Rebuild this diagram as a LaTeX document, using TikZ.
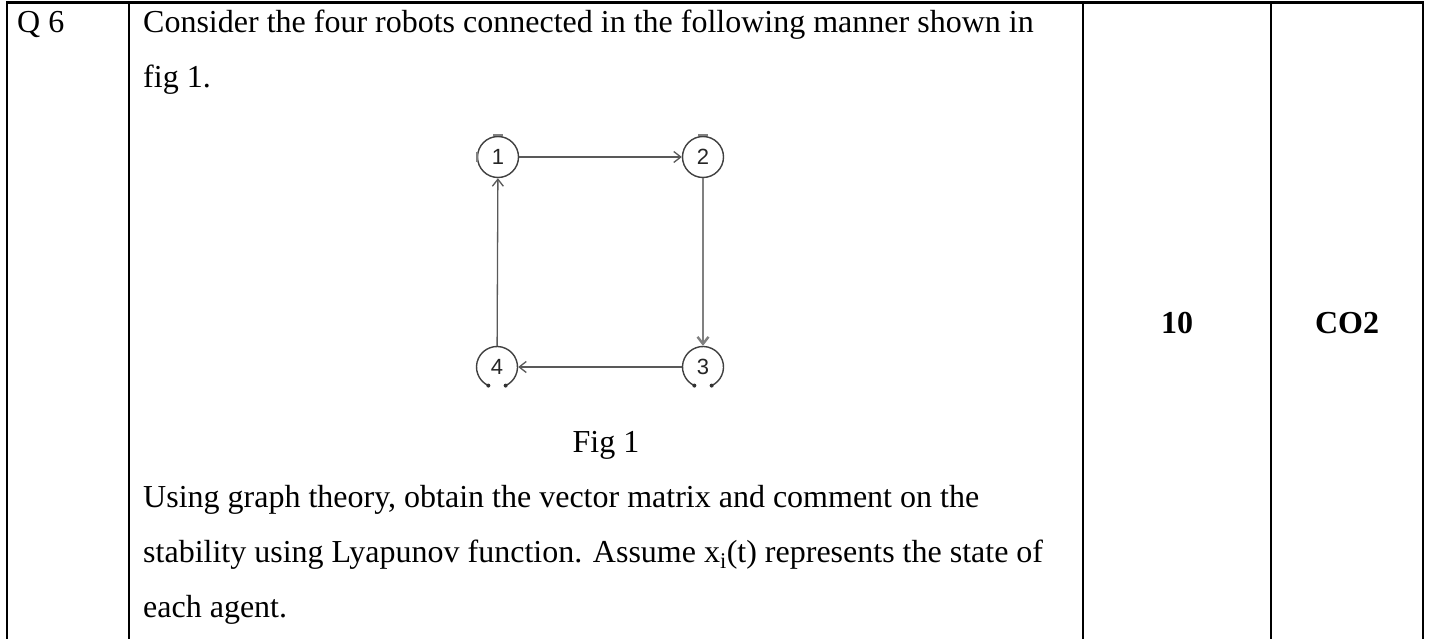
\documentclass[tikz,border=0pt]{standalone}
\usepackage{fontspec}
\setmainfont{Liberation Serif}
\newfontfamily\numfont{Liberation Sans}
\usetikzlibrary{arrows.meta}

\begin{document}
\begin{tikzpicture}[x=1pt,y=-1pt,
  rule/.style={line width=2pt, black},
  body/.style={anchor=base west, font=\fontsize{32}{38}\selectfont, inner sep=0pt},
  cell/.style={anchor=base, font=\fontsize{32}{38}\selectfont\bfseries, inner sep=0pt},
  robot/.style={circle, minimum size=42pt, inner sep=0pt, font=\numfont\fontsize{22}{22}\selectfont, text=black!85},
  ring/.style={draw=black!75, line width=1.4pt},
  link/.style={draw=black!65, line width=1.3pt, -{Straight Barb[length=7pt,width=11pt]}},
  tick/.style={draw=black!50, line width=2.5pt},
]
\useasboundingbox (0,0) rectangle (1429,639);
\fill[white] (0,0) rectangle (1429,639);

% table rules
\draw[line width=3pt] (6,3) -- (1424,3);
\foreach \x in {7,129,1083,1271,1423} \draw[rule] (\x,3) -- (\x,639);

% question text
\node[body] (qno) at (17,33) {Q 6};
\node[body] (l1) at (143,33) {Consider the four robots connected in the following manner shown in};
\node[body] (l2) at (143,88) {fig 1.};
\node[body, anchor=base] (cap) at (606,452) {Fig 1};
\node[body] (l3) at (143,507) {Using graph theory, obtain the vector matrix and comment on the};
\node[body] (l4) at (143,562) {stability using Lyapunov function. Assume x\textsubscript{i}(t) represents the state of};
\node[body] (l5) at (143,617) {each agent.};
\node[cell] (marks) at (1177,333) {10};
\node[cell] (co) at (1347,333) {CO2};

% the four robots
\node[robot] (r1) at (498,157) {1};
\node[robot] (r2) at (703,157) {2};
\node[robot] (r3) at (703,367) {3};
\node[robot] (r4) at (497,367) {4};

\draw[ring] (r1.center) circle[radius=20.5];
\draw[ring] (r2.center) circle[radius=20.5];
\foreach \r in {r3,r4}{
  \draw[ring] ([shift={(115:20.5)}]\r.center) arc[start angle=115, end angle=425, radius=20.5];
  \fill[black!80] ([shift={(115:20.5)}]\r.center) circle[radius=2];
  \fill[black!80] ([shift={(65:20.5)}]\r.center) circle[radius=2];
}
\draw[tick] ([xshift=-5pt,yshift=1pt]r1.north) -- ([xshift=5pt,yshift=1pt]r1.north);
\draw[tick] ([xshift=-5pt,yshift=1pt]r2.north) -- ([xshift=5pt,yshift=1pt]r2.north);
\draw[tick, line width=1.5pt] ([yshift=-5pt]r1.west) -- ([yshift=5pt]r1.west);

% directed links
\draw[link] (r1) -- (r2);
\draw[link, draw=black!50, line width=2.4pt] (r2) -- (r3);
\draw[link] (r3) -- (r4);
\draw[link] (r4) -- (r1);
\end{tikzpicture}
\end{document}
